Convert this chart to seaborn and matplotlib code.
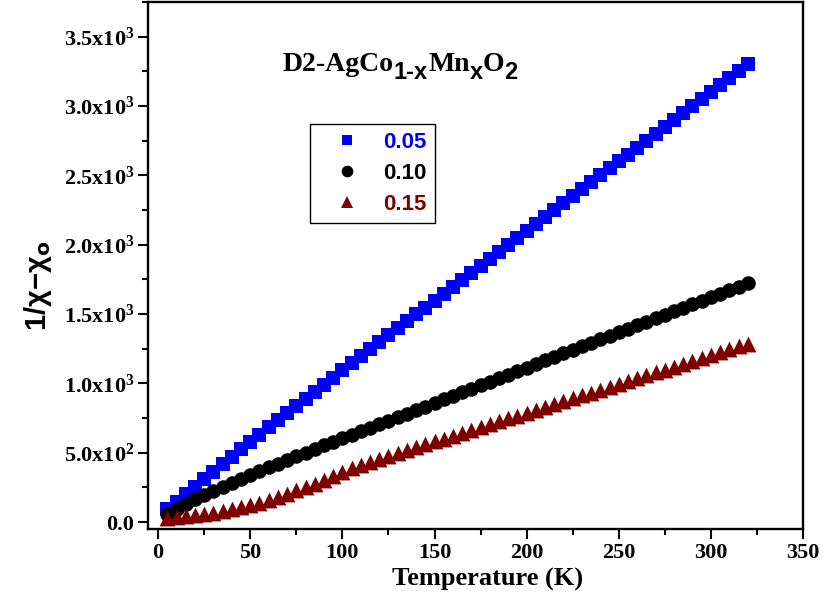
import numpy as np
import pandas as pd
import matplotlib
matplotlib.use("Agg")
import matplotlib.pyplot as plt
import seaborn as sns
from matplotlib.ticker import MultipleLocator, FuncFormatter
from matplotlib.lines import Line2D

# temperature grid (K) and 1/(chi - chi0) for the three Mn contents
temperature = [5, 10, 15, 20, 25, 30, 35, 40, 45, 50, 55, 60, 65, 70, 75, 80,
               85, 90, 95, 100, 105, 110, 115, 120, 125, 130, 135, 140, 145, 150,
               155, 160, 165, 170, 175, 180, 185, 190, 195, 200, 205, 210, 215,
               220, 225, 230, 235, 240, 245, 250, 255, 260, 265, 270, 275, 280,
               285, 290, 295, 300, 305, 310, 315, 320]

inv_chi_005 = [94, 148, 202, 256, 310, 364, 418, 472, 525, 579, 630, 682, 733,
               785, 836, 887, 939, 990, 1042, 1093, 1145, 1196, 1246, 1296, 1346,
               1397, 1447, 1497, 1547, 1597, 1647, 1698, 1748, 1798, 1848, 1898,
               1949, 1999, 2049, 2099, 2149, 2200, 2250, 2300, 2350, 2400, 2450,
               2500, 2550, 2600, 2650, 2700, 2750, 2800, 2850, 2900, 2950, 3000,
               3050, 3100, 3150, 3200, 3250, 3300]

inv_chi_010 = [60, 97, 131, 164, 195, 225, 254, 283, 312, 340, 367, 394, 421,
               448, 475, 501, 527, 553, 579, 605, 630, 655, 680, 706, 731, 757,
               782, 808, 833, 859, 884, 910, 935, 961, 986, 1012, 1037, 1063,
               1088, 1114, 1139, 1165, 1190, 1216, 1241, 1266, 1292, 1317, 1342,
               1368, 1393, 1419, 1444, 1470, 1495, 1520, 1546, 1571, 1597, 1622,
               1647, 1673, 1698, 1724]

inv_chi_015 = [30, 38, 44, 50, 58, 68, 80, 94, 108, 120, 138, 156, 180, 204,
               228, 252, 276, 301, 330, 360, 388, 415, 436, 457, 478, 498, 519,
               540, 561, 581, 602, 623, 644, 664, 685, 706, 727, 747, 768, 789,
               810, 830, 851, 872, 893, 913, 934, 955, 976, 996, 1017, 1038, 1059,
               1079, 1100, 1121, 1142, 1162, 1183, 1204, 1225, 1245, 1266, 1287]

labels = ["0.05", "0.10", "0.15"]
colors = ["#0000ff", "#000000", "#800000"]
markers = ["s", "o", "^"]
sizes = [95, 110, 130]

df = pd.DataFrame({
    "T": temperature * 3,
    "inv_chi": inv_chi_005 + inv_chi_010 + inv_chi_015,
    "x": [labels[0]] * len(temperature) + [labels[1]] * len(temperature)
         + [labels[2]] * len(temperature),
})

sns.set_theme(style="ticks")
plt.rcParams["font.family"] = ["Liberation Serif", "DejaVu Serif"]
plt.rcParams["font.weight"] = "bold"
plt.rcParams["mathtext.fontset"] = "custom"
plt.rcParams["mathtext.rm"] = "Liberation Serif:bold"
plt.rcParams["mathtext.it"] = "Liberation Serif:bold"
plt.rcParams["mathtext.bf"] = "Liberation Serif:bold"

fig = plt.figure(figsize=(8.24, 6), dpi=100)
ax = fig.add_axes([148 / 824, 71 / 600, 655 / 824, 527 / 600])

for lab, col, mk, sz in zip(labels, colors, markers, sizes):
    sub = df[df["x"] == lab]
    sns.scatterplot(data=sub, x="T", y="inv_chi", marker=mk, color=col, s=sz,
                    linewidth=0, ax=ax, legend=False)

ax.set_xlim(-5.5, 350)
ax.set_ylim(-50, 3750)

ax.xaxis.set_major_locator(MultipleLocator(50))
ax.xaxis.set_minor_locator(MultipleLocator(25))
ax.yaxis.set_major_locator(MultipleLocator(500))
ax.yaxis.set_minor_locator(MultipleLocator(250))


def y_fmt(v, pos):
    if abs(v) < 1e-9:
        return "0.0"
    exp = int(np.floor(np.log10(abs(v))))
    return f"{v / 10 ** exp:.1f}x10$^{{{exp}}}$"


ax.yaxis.set_major_formatter(FuncFormatter(y_fmt))
ax.xaxis.set_major_formatter(FuncFormatter(lambda v, p: f"{v:.0f}"))

ax.tick_params(which="major", direction="out", length=7, width=1.5,
               labelsize=16, pad=3, top=False, right=False, color="black",
               labelcolor="black")
ax.tick_params(which="minor", direction="out", length=4, width=1.5,
               top=False, right=False, color="black")
for lbl in ax.get_xticklabels() + ax.get_yticklabels():
    lbl.set_fontweight("bold")

for sp in ax.spines.values():
    sp.set_visible(True)
    sp.set_linewidth(1.7)
    sp.set_color("black")

ax.set_xlabel("Temperature (K)", fontsize=19, fontweight="bold", color="black")
ax.xaxis.set_label_coords(0.519, -0.074)
ax.set_ylabel("1/\u03c7\u2212\u03c7$_{\\mathbf{o}}$", fontsize=21,
              fontfamily="Liberation Sans", fontweight="bold",
              math_fontfamily="dejavusans", color="black")
ax.yaxis.set_label_coords(-0.144, 0.461)

# chemical formula: main text in serif, subscripts in sans, placed piece by piece
renderer = fig.canvas.get_renderer()
x_px, y_px = ax.transAxes.transform((0.206, 0.869))
W, H = fig.bbox.width, fig.bbox.height
pieces = [("D2-AgCo", 20, 0, "Liberation Serif"),
          ("1-x", 17, -8, "Liberation Sans"),
          ("Mn", 20, 0, "Liberation Serif"),
          ("x", 17, -8, "Liberation Sans"),
          ("O", 20, 0, "Liberation Serif"),
          ("2", 17, -8, "Liberation Sans")]
for txt, fs, dy, fam in pieces:
    t = fig.text(x_px / W, (y_px + dy) / H, txt, fontsize=fs, fontweight="bold",
                 fontfamily=fam, va="baseline", ha="left", color="black")
    x_px = t.get_window_extent(renderer).x1

handles = [Line2D([], [], marker=mk, color=col, linestyle="None",
                  markersize=np.sqrt(sz) * 0.8, markeredgewidth=0)
           for col, mk, sz in zip(colors, markers, sizes)]
leg = ax.legend(handles, labels, loc="upper left",
                bbox_to_anchor=((310 - 148) / 655, (529 - 124) / 527),
                borderaxespad=0, frameon=True, fancybox=False,
                edgecolor="black", framealpha=1, borderpad=0.35,
                handlelength=2.6, handletextpad=0.36, labelspacing=0.45,
                prop={"family": "Liberation Sans", "weight": "bold", "size": 16},
                labelcolor=colors)
leg.get_frame().set_linewidth(1.0)

fig.savefig("out.png", dpi=100)
